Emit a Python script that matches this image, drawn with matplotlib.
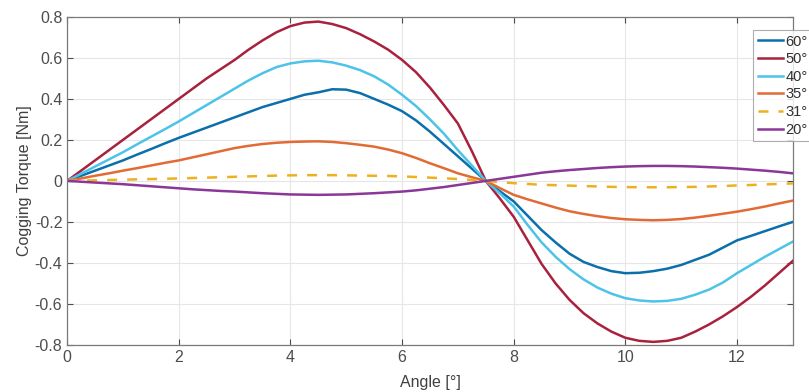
import matplotlib
matplotlib.use('Agg')
import matplotlib.pyplot as plt
from matplotlib.ticker import FormatStrFormatter

plt.rcParams['font.family'] = ['Liberation Sans', 'DejaVu Sans']
plt.rcParams['axes.unicode_minus'] = False

# angle [deg], sampled every 0.25 deg from 0 to 13
angle = [i * 0.25 for i in range(53)]

# cogging torque [Nm] for each skew angle
t60 = [0, .025, .05, .075, .10, .128, .155, .183, .21, .235, .26, .285, .31, .335, .36, .38,
       .40, .42, .432, .447, .445, .428, .40, .372, .34, .295, .24, .18, .12, .06, 0,
       -.05, -.10, -.17, -.24, -.30, -.355, -.395, -.42, -.44, -.45, -.448, -.44, -.428,
       -.41, -.385, -.36, -.325, -.29, -.268, -.245, -.222, -.20]
t50 = [0, .05, .10, .15, .20, .25, .30, .35, .40, .45, .50, .545, .59, .64, .685, .725,
       .755, .772, .777, .765, .745, .715, .68, .64, .59, .53, .455, .37, .28, .145, 0,
       -.085, -.175, -.29, -.405, -.50, -.58, -.645, -.695, -.735, -.765, -.78, -.785, -.78,
       -.765, -.735, -.70, -.66, -.615, -.565, -.51, -.45, -.39]
t40 = [0, .035, .07, .105, .14, .178, .215, .252, .29, .33, .37, .41, .45, .49, .525, .555,
       .573, .583, .586, .578, .562, .54, .51, .47, .42, .365, .30, .23, .15, .075, 0,
       -.06, -.125, -.215, -.30, -.37, -.43, -.48, -.52, -.55, -.572, -.583, -.588, -.585,
       -.575, -.555, -.53, -.495, -.45, -.41, -.37, -.333, -.296]
t35 = [0, .012, .025, .037, .05, .062, .075, .088, .10, .115, .13, .145, .16, .171, .18, .186,
       .19, .192, .193, .19, .184, .176, .167, .153, .135, .112, .086, .062, .037, .018, 0,
       -.035, -.068, -.09, -.11, -.13, -.148, -.161, -.172, -.181, -.187, -.19, -.192, -.19,
       -.186, -.179, -.17, -.16, -.15, -.138, -.125, -.11, -.096]
t31 = [0, .0015, .003, .0045, .006, .0075, .009, .0105, .012, .014, .016, .018, .02, .022, .024, .026,
       .027, .028, .028, .028, .027, .026, .025, .024, .022, .019, .016, .013, .009, .005, 0,
       -.006, -.011, -.015, -.019, -.021, -.023, -.025, -.027, -.029, -.03, -.031, -.031, -.031,
       -.03, -.029, -.027, -.025, -.022, -.02, -.017, -.015, -.012]
t20 = [0, -.004, -.008, -.012, -.016, -.021, -.026, -.031, -.036, -.041, -.045, -.049, -.052, -.056, -.06, -.063,
       -.066, -.067, -.068, -.067, -.066, -.063, -.06, -.056, -.052, -.046, -.038, -.03, -.02, -.01, 0,
       .01, .02, .03, .04, .047, .053, .058, .063, .067, .07, .072, .073, .073,
       .072, .07, .067, .064, .06, .055, .05, .044, .037]

labels = ['60°', '50°', '40°', '35°', '31°', '20°']

fig = plt.figure(figsize=(8.09, 3.92), dpi=100)
ax = fig.add_axes([0.083, 0.12, 0.897, 0.837])

ax.plot(angle, t60, color='#0A6FAA', lw=1.8, label=labels[0])
ax.plot(angle, t50, color='#A8213D', lw=1.8, label=labels[1])
ax.plot(angle, t40, color='#4DC3EA', lw=1.8, label=labels[2])
ax.plot(angle, t35, color='#E26A35', lw=1.8, label=labels[3])
ax.plot(angle, t31, color='#EDB120', lw=1.8, ls=(0, (4, 4)), label=labels[4])
ax.plot(angle, t20, color='#8A3797', lw=1.8, label=labels[5])

ax.set_xlim(0, 13)
ax.set_ylim(-0.8, 0.8)
ax.set_xticks([0, 2, 4, 6, 8, 10, 12])
ax.set_yticks([-0.8, -0.6, -0.4, -0.2, 0, 0.2, 0.4, 0.6, 0.8])
ax.yaxis.set_major_formatter(FormatStrFormatter('%g'))
ax.grid(True, color='#e6e6e6', lw=0.8)
ax.tick_params(direction='in', top=True, right=True, labelsize=11.5,
               colors='#4d4d4d', length=4)
for s in ax.spines.values():
    s.set_color('#7a7a7a')
    s.set_linewidth(0.9)

ax.set_xlabel('Angle [°]', fontsize=11.5, color='#404040', labelpad=7)
ax.set_ylabel('Cogging Torque [Nm]', fontsize=11.5, color='#404040', labelpad=2)

# legend sits at the right edge, its frame runs off the picture like the original
leg = ax.legend(loc='upper left', bbox_to_anchor=(0.931, 0.923),
                bbox_transform=fig.transFigure, fontsize=10.5, frameon=True,
                fancybox=False, handlelength=1.75, handletextpad=0.15,
                labelspacing=0.25, borderpad=0.3, borderaxespad=0)
leg.get_frame().set_edgecolor('#9a9a9a')
leg.get_frame().set_linewidth(0.8)
for t in leg.get_texts():
    t.set_color('#303030')

fig.savefig('out.png', dpi=100)
